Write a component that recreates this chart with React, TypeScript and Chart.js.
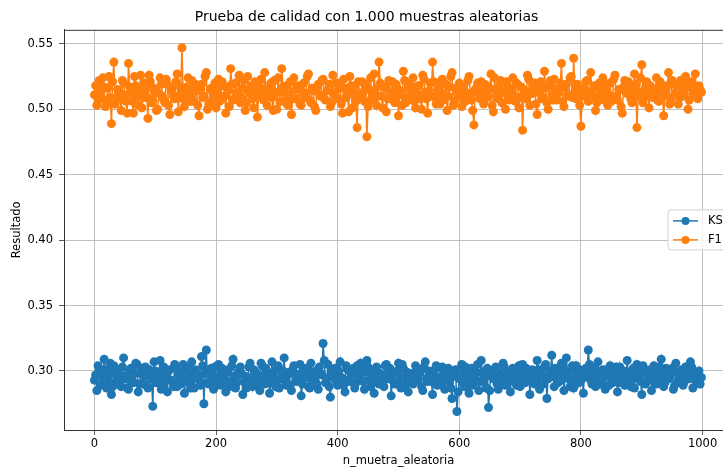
import { useEffect, useRef } from "react";
import React from "react";
import { Chart, ChartConfiguration, Plugin, registerables } from "chart.js";
Chart.register(...registerables);

// readings taken every 4th sample (0, 4, 8 ... 996) and the ones in between (2, 6 ... 998)
const sampleStep = 4;
const midOffset = 2;

const f1Values = [
  0.511, 0.503, 0.522, 0.508, 0.517, 0.505, 0.525, 0.489, 0.536, 0.509,
  0.514, 0.499, 0.52, 0.506, 0.535, 0.512, 0.497, 0.518, 0.503, 0.526,
  0.509, 0.515, 0.493, 0.521, 0.507, 0.513, 0.5, 0.524, 0.51, 0.505,
  0.519, 0.496, 0.516, 0.508, 0.527, 0.511, 0.547, 0.502, 0.517, 0.509,
  0.522, 0.506, 0.514, 0.495, 0.519, 0.51, 0.528, 0.504, 0.516, 0.512,
  0.501, 0.523, 0.509, 0.518, 0.497, 0.514, 0.531, 0.507, 0.52, 0.511,
  0.505, 0.516, 0.499, 0.525, 0.512, 0.508, 0.521, 0.494, 0.517, 0.51,
  0.528, 0.503, 0.515, 0.509, 0.522, 0.5, 0.513, 0.531, 0.506, 0.518,
  0.511, 0.496, 0.524, 0.508, 0.516, 0.503, 0.52, 0.512, 0.527, 0.505,
  0.514, 0.499, 0.519, 0.51, 0.523, 0.507, 0.515, 0.502, 0.526, 0.511,
  0.508, 0.52, 0.497, 0.516, 0.513, 0.525, 0.501, 0.518, 0.486, 0.512,
  0.521, 0.506, 0.479, 0.515, 0.509, 0.527, 0.503, 0.536, 0.51, 0.517,
  0.498, 0.522, 0.512, 0.507, 0.519, 0.495, 0.514, 0.529, 0.505, 0.516,
  0.51, 0.524, 0.501, 0.518, 0.508, 0.526, 0.513, 0.497, 0.52, 0.536,
  0.509, 0.515, 0.504, 0.523, 0.511, 0.499, 0.517, 0.528, 0.506, 0.513,
  0.52, 0.502, 0.514, 0.509, 0.525, 0.507, 0.488, 0.516, 0.512, 0.521,
  0.504, 0.518, 0.51, 0.527, 0.498, 0.515, 0.508, 0.522, 0.513, 0.5,
  0.517, 0.511, 0.524, 0.506, 0.519, 0.509, 0.484, 0.514, 0.526, 0.503,
  0.512, 0.52, 0.496, 0.516, 0.508, 0.529, 0.505, 0.518, 0.511, 0.523,
  0.507, 0.514, 0.535, 0.502, 0.519, 0.51, 0.525, 0.539, 0.508, 0.516,
  0.487, 0.513, 0.521, 0.506, 0.528, 0.511, 0.499, 0.517, 0.509, 0.524,
  0.514, 0.503, 0.52, 0.51, 0.526, 0.507, 0.515, 0.497, 0.522, 0.512,
  0.518, 0.505, 0.527, 0.486, 0.513, 0.534, 0.509, 0.521, 0.501, 0.516,
  0.511, 0.524, 0.506, 0.519, 0.495, 0.515, 0.528, 0.508, 0.52, 0.513,
  0.504, 0.522, 0.51, 0.525, 0.5, 0.517, 0.512, 0.527, 0.508, 0.515,
];

const f1MidValues = [
  0.518, 0.507, 0.513, 0.524, 0.502, 0.516, 0.509, 0.521, 0.504, 0.515,
  0.508, 0.522, 0.511, 0.497, 0.517, 0.506, 0.525, 0.51, 0.514, 0.501,
  0.52, 0.509, 0.526, 0.505, 0.516, 0.499, 0.512, 0.519, 0.507, 0.523,
  0.503, 0.514, 0.51, 0.521, 0.498, 0.517, 0.508, 0.513, 0.524, 0.506,
  0.512, 0.519, 0.503, 0.516, 0.509, 0.525, 0.5, 0.515, 0.507, 0.52,
  0.514, 0.506, 0.521, 0.51, 0.517, 0.502, 0.519, 0.508, 0.513, 0.526,
  0.509, 0.522, 0.505, 0.514, 0.518, 0.501, 0.516, 0.511, 0.523, 0.507,
  0.515, 0.51, 0.52, 0.499, 0.513, 0.524, 0.506, 0.517, 0.512, 0.503,
  0.521, 0.508, 0.515, 0.518, 0.504, 0.513, 0.509, 0.525, 0.507, 0.516,
  0.502, 0.517, 0.511, 0.522, 0.508, 0.514, 0.519, 0.505, 0.512, 0.52,
  0.516, 0.504, 0.523, 0.509, 0.498, 0.518, 0.512, 0.506, 0.521, 0.51,
  0.513, 0.519, 0.502, 0.524, 0.507, 0.515, 0.51, 0.52, 0.501, 0.517,
  0.508, 0.514, 0.521, 0.505, 0.516, 0.511, 0.503, 0.522, 0.509, 0.519,
  0.515, 0.506, 0.512, 0.518, 0.5, 0.523, 0.508, 0.514, 0.51, 0.521,
  0.504, 0.52, 0.513, 0.507, 0.519, 0.51, 0.525, 0.503, 0.516, 0.509,
  0.511, 0.517, 0.506, 0.522, 0.512, 0.499, 0.515, 0.52, 0.508, 0.514,
  0.519, 0.509, 0.516, 0.503, 0.524, 0.511, 0.518, 0.505, 0.513, 0.521,
  0.507, 0.515, 0.51, 0.52, 0.501, 0.517, 0.512, 0.508, 0.523, 0.514,
  0.518, 0.504, 0.513, 0.521, 0.509, 0.516, 0.5, 0.522, 0.507, 0.515,
  0.512, 0.52, 0.506, 0.517, 0.511, 0.524, 0.509, 0.514, 0.519, 0.503,
  0.51, 0.516, 0.522, 0.508, 0.513, 0.518, 0.505, 0.52, 0.512, 0.507,
  0.519, 0.511, 0.506, 0.523, 0.509, 0.515, 0.502, 0.517, 0.513, 0.521,
  0.508, 0.514, 0.519, 0.51, 0.524, 0.505, 0.516, 0.512, 0.518, 0.509,
  0.515, 0.507, 0.521, 0.513, 0.51, 0.518, 0.504, 0.522, 0.511, 0.517,
  0.509, 0.516, 0.512, 0.519, 0.507, 0.521, 0.514, 0.51, 0.518, 0.513,
];

const ksValues = [
  0.293, 0.285, 0.301, 0.29, 0.309, 0.287, 0.297, 0.282, 0.304, 0.292,
  0.299, 0.288, 0.31, 0.294, 0.286, 0.302, 0.291, 0.306, 0.284, 0.298,
  0.29, 0.303, 0.287, 0.296, 0.273, 0.3, 0.293, 0.308, 0.289, 0.297,
  0.284, 0.301, 0.292, 0.305, 0.288, 0.296, 0.299, 0.283, 0.303, 0.291,
  0.307, 0.287, 0.298, 0.293, 0.311, 0.275, 0.316, 0.29, 0.302, 0.286,
  0.295, 0.305, 0.289, 0.299, 0.284, 0.301, 0.292, 0.309, 0.287, 0.297,
  0.303, 0.282, 0.296, 0.291, 0.306, 0.288, 0.3, 0.294, 0.285, 0.304,
  0.29, 0.298, 0.283, 0.307, 0.293, 0.301, 0.287, 0.296, 0.31, 0.289,
  0.299, 0.285, 0.304, 0.292, 0.297, 0.281, 0.302, 0.295, 0.288, 0.306,
  0.293, 0.3, 0.286, 0.298, 0.321, 0.291, 0.305, 0.28, 0.296, 0.302,
  0.289, 0.307, 0.294, 0.284, 0.301, 0.292, 0.298, 0.287, 0.304, 0.295,
  0.3, 0.286, 0.308, 0.293, 0.297, 0.283, 0.303, 0.29, 0.296, 0.288,
  0.305, 0.294, 0.281, 0.299, 0.291, 0.306, 0.287, 0.302, 0.295, 0.284,
  0.298, 0.29, 0.304, 0.293, 0.3, 0.285, 0.307, 0.292, 0.296, 0.282,
  0.301, 0.289, 0.295, 0.303, 0.286, 0.298, 0.292, 0.279, 0.3, 0.269,
  0.294, 0.305, 0.288, 0.297, 0.283, 0.302, 0.291, 0.299, 0.285, 0.308,
  0.292, 0.287, 0.272, 0.3, 0.294, 0.303, 0.286, 0.297, 0.306, 0.289,
  0.298, 0.284, 0.302, 0.293, 0.299, 0.288, 0.305, 0.291, 0.296, 0.282,
  0.301, 0.29, 0.308, 0.286, 0.297, 0.303, 0.279, 0.295, 0.312, 0.288,
  0.299, 0.292, 0.306, 0.285, 0.31, 0.294, 0.3, 0.287, 0.304, 0.291,
  0.296, 0.283, 0.302, 0.316, 0.293, 0.298, 0.288, 0.307, 0.29, 0.301,
  0.286, 0.297, 0.304, 0.291, 0.299, 0.284, 0.303, 0.295, 0.289, 0.308,
  0.293, 0.3, 0.287, 0.305, 0.296, 0.282, 0.301, 0.292, 0.298, 0.285,
  0.304, 0.29, 0.297, 0.309, 0.288, 0.302, 0.294, 0.299, 0.286, 0.306,
  0.292, 0.3, 0.289, 0.303, 0.295, 0.307, 0.287, 0.298, 0.293, 0.29,
];

const ksMidValues = [
  0.297, 0.304, 0.289, 0.295, 0.301, 0.292, 0.306, 0.288, 0.299, 0.294,
  0.291, 0.303, 0.296, 0.287, 0.3, 0.293, 0.298, 0.305, 0.29, 0.302,
  0.296, 0.289, 0.301, 0.294, 0.307, 0.291, 0.299, 0.286, 0.303, 0.295,
  0.3, 0.293, 0.288, 0.302, 0.297, 0.29, 0.305, 0.294, 0.298, 0.287,
  0.294, 0.301, 0.296, 0.289, 0.304, 0.298, 0.291, 0.3, 0.295, 0.303,
  0.29, 0.297, 0.302, 0.293, 0.299, 0.288, 0.304, 0.296, 0.291, 0.3,
  0.298, 0.292, 0.287, 0.303, 0.295, 0.301, 0.29, 0.297, 0.306, 0.293,
  0.302, 0.296, 0.291, 0.299, 0.288, 0.304, 0.294, 0.3, 0.292, 0.297,
  0.289, 0.301, 0.298, 0.293, 0.305, 0.29, 0.296, 0.302, 0.287, 0.299,
  0.295, 0.29, 0.303, 0.297, 0.308, 0.294, 0.288, 0.301, 0.296, 0.292,
  0.3, 0.295, 0.289, 0.304, 0.293, 0.298, 0.302, 0.291, 0.297, 0.306,
  0.292, 0.299, 0.303, 0.288, 0.296, 0.301, 0.294, 0.298, 0.29, 0.304,
  0.297, 0.302, 0.293, 0.29, 0.3, 0.295, 0.305, 0.289, 0.299, 0.294,
  0.291, 0.296, 0.301, 0.298, 0.288, 0.303, 0.294, 0.3, 0.292, 0.297,
  0.304, 0.293, 0.29, 0.299, 0.295, 0.302, 0.287, 0.296, 0.301, 0.284,
  0.298, 0.291, 0.303, 0.294, 0.3, 0.289, 0.297, 0.305, 0.292, 0.299,
  0.295, 0.302, 0.285, 0.296, 0.301, 0.29, 0.298, 0.293, 0.303, 0.297,
  0.292, 0.3, 0.295, 0.289, 0.304, 0.296, 0.291, 0.302, 0.298, 0.294,
  0.299, 0.293, 0.301, 0.297, 0.29, 0.305, 0.294, 0.3, 0.296, 0.302,
  0.291, 0.298, 0.303, 0.295, 0.299, 0.288, 0.304, 0.293, 0.297, 0.301,
  0.294, 0.3, 0.296, 0.305, 0.29, 0.302, 0.297, 0.292, 0.299, 0.295,
  0.301, 0.289, 0.298, 0.294, 0.303, 0.291, 0.296, 0.3, 0.293, 0.297,
  0.288, 0.302, 0.295, 0.299, 0.292, 0.304, 0.29, 0.297, 0.301, 0.294,
  0.298, 0.293, 0.303, 0.296, 0.291, 0.3, 0.295, 0.302, 0.289, 0.299,
  0.296, 0.301, 0.292, 0.298, 0.294, 0.303, 0.297, 0.291, 0.3, 0.295,
];

const xTicks = [0, 200, 400, 600, 800, 1000];
const yTicks = [0.3, 0.35, 0.4, 0.45, 0.5, 0.55];

const FONT = "'DejaVu Sans', sans-serif";

// top spine + matplotlib-style legend sitting inside the axes, centre right
const framePlugin: Plugin = {
  id: "frame",
  afterDraw(chart) {
    const { ctx, chartArea } = chart;
    ctx.save();
    ctx.strokeStyle = "#333333";
    ctx.lineWidth = 1;
    ctx.beginPath();
    ctx.moveTo(chartArea.left, chartArea.top + 0.5);
    ctx.lineTo(chartArea.right, chartArea.top + 0.5);
    ctx.stroke();

    const midY = (chartArea.top + chartArea.bottom) / 2;
    const bx = chartArea.right - 65;
    const by = midY - 20;
    ctx.fillStyle = "rgba(255,255,255,0.8)";
    ctx.strokeStyle = "#d0d0d0";
    ctx.beginPath();
    ctx.roundRect(bx, by, 80, 40, 3);
    ctx.fill();
    ctx.stroke();

    chart.data.datasets.forEach((ds, i) => {
      const y = by + 11 + i * 19;
      const c = ds.borderColor as string;
      ctx.strokeStyle = c;
      ctx.lineWidth = 1.5;
      ctx.beginPath();
      ctx.moveTo(bx + 5, y);
      ctx.lineTo(bx + 30, y);
      ctx.stroke();
      ctx.fillStyle = c;
      ctx.beginPath();
      ctx.arc(bx + 17.5, y, 4, 0, Math.PI * 2);
      ctx.fill();
      ctx.fillStyle = "#000000";
      ctx.font = `11.5px ${FONT}`;
      ctx.textBaseline = "middle";
      ctx.fillText(ds.label as string, bx + 40, y + 0.5);
    });
    ctx.restore();
  },
};

const App = () => {
  const ref = useRef<HTMLCanvasElement>(null);

  useEffect(() => {
    const toPoints = (vals: number[], mids: number[]) =>
      vals.flatMap((v, i) => [
        { x: i * sampleStep, y: v },
        { x: i * sampleStep + midOffset, y: mids[i] },
      ]);
    const series = (label: string, color: string, data: { x: number; y: number }[]) => ({
      label,
      data,
      borderColor: color,
      backgroundColor: color,
      borderWidth: 1.5,
      pointRadius: 4.5,
      pointBorderWidth: 0,
      pointBackgroundColor: color,
    });
    const config: ChartConfiguration = {
      type: "line",
      data: {
        datasets: [
          series("KS", "#1f77b4", toPoints(ksValues, ksMidValues)),
          series("F1", "#ff7f0e", toPoints(f1Values, f1MidValues)),
        ],
      },
      options: {
        animation: false,
        responsive: true,
        maintainAspectRatio: false,
        layout: { padding: { left: 0, right: 64, top: 0, bottom: 0 } },
        plugins: {
          legend: { display: false },
          tooltip: { enabled: false },
          title: {
            display: true,
            text: "Prueba de calidad con 1.000 muestras aleatorias",
            color: "#000000",
            font: { family: FONT, size: 14, weight: "normal" },
            padding: { top: 9, bottom: 4 },
          },
        },
        scales: {
          x: {
            type: "linear",
            min: -50,
            max: 1050,
            afterBuildTicks: (s) => {
              s.ticks = xTicks.map((v) => ({ value: v }));
            },
            afterFit: (s) => {
              s.height = 40;
            },
            grid: {
              color: "#b0b0b0",
              lineWidth: 0.8,
              tickLength: 5,
              tickColor: "#333333",
            },
            border: { display: true, color: "#333333", width: 1 },
            ticks: {
              color: "#000000",
              font: { family: FONT, size: 11.5 },
              padding: 2,
              maxRotation: 0,
              callback: (v) => String(v),
            },
            title: {
              display: true,
              text: "n_muetra_aleatoria",
              color: "#000000",
              font: { family: FONT, size: 11.5 },
              padding: { top: 0, bottom: 2 },
            },
          },
          y: {
            type: "linear",
            min: 0.2549,
            max: 0.5607,
            afterBuildTicks: (s) => {
              s.ticks = yTicks.map((v) => ({ value: v }));
            },
            afterFit: (s) => {
              s.width = 64;
            },
            grid: {
              color: "#b0b0b0",
              lineWidth: 0.8,
              tickLength: 5,
              tickColor: "#333333",
            },
            border: { display: true, color: "#333333", width: 1 },
            ticks: {
              color: "#000000",
              font: { family: FONT, size: 11.5 },
              padding: 6,
              callback: (v) => Number(v).toFixed(2),
            },
            title: {
              display: true,
              text: "Resultado",
              color: "#000000",
              font: { family: FONT, size: 11.5 },
              padding: { top: 10, bottom: 0 },
            },
          },
        },
      },
      plugins: [framePlugin],
    };
    const chart = new Chart(ref.current!, config);
    return () => {
      chart.destroy();
    };
  }, []);

  return (
    <div
      style={{
        position: "absolute",
        left: 0,
        top: 0,
        width: 723,
        height: 470,
        overflow: "hidden",
        background: "#ffffff",
      }}
    >
      <div style={{ position: "relative", width: 797, height: 470 }}>
        <canvas ref={ref}></canvas>
      </div>
    </div>
  );
};
export default App;
